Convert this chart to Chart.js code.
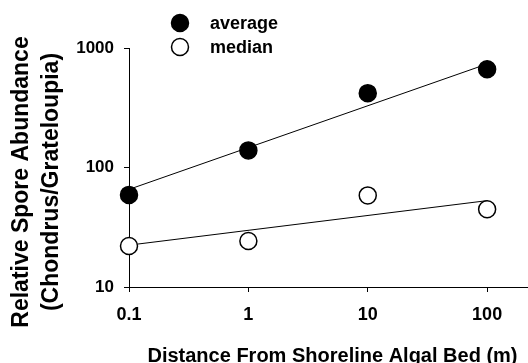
<!DOCTYPE html>
<html><head><meta charset="utf-8">
<script src="https://cdn.jsdelivr.net/npm/chart.js@4"></script>
<style>html,body{margin:0;padding:0;background:#fff}canvas{display:block}</style>
</head><body>
<canvas id="c" width="528" height="363"></canvas>
<script>
const distances = [0.1, 1, 10, 100];
const averageValues = [59, 139, 419, 664];
const medianValues = [22, 24.3, 58.4, 44.7];
const fitDistances = [0.1, 100];
const averageFit = [65.6, 735];
const medianFit = [22.4, 52.8];
const xTickValues = [0.1, 1, 10, 100];
const xTickLabels = ['0.1', '1', '10', '100'];
const yTickValues = [10, 100, 1000];
const yTickLabels = ['10', '100', '1000'];
const seriesLabels = ['average', 'median'];
const xTitle = 'Distance From Shoreline Algal Bed (m)';
const yTitleLines = ['Relative Spore Abundance', '(Chondrus/Grateloupia)'];

const FONT = "'Liberation Sans', Arial, Helvetica, sans-serif";
const toPts = (xs, ys) => xs.map((x, i) => ({x: x, y: ys[i]}));

const annotations = {
  id: 'annotations',
  afterDraw(chart) {
    const ctx = chart.ctx;
    ctx.save();
    ctx.fillStyle = '#000';
    // legend
    const legendY = [23, 47];
    seriesLabels.forEach((lab, i) => {
      const ds = chart.data.datasets[i];
      ctx.beginPath();
      ctx.arc(180, legendY[i], 8.5, 0, Math.PI * 2);
      ctx.fillStyle = ds.backgroundColor;
      ctx.fill();
      ctx.lineWidth = 1.5;
      ctx.strokeStyle = '#000';
      ctx.stroke();
      ctx.fillStyle = '#000';
      ctx.font = 'bold 18px ' + FONT;
      ctx.textAlign = 'left';
      ctx.textBaseline = 'middle';
      ctx.fillText(lab, 210, legendY[i] + 1);
    });
    // x title
    ctx.font = 'bold 20px ' + FONT;
    ctx.textAlign = 'center';
    ctx.textBaseline = 'middle';
    ctx.fillText(xTitle, 332.5, 356);
    // y title
    ctx.font = 'bold 23px ' + FONT;
    const yx = [21.5, 51.5];
    yTitleLines.forEach((t, i) => {
      ctx.save();
      ctx.translate(yx[i], 182);
      ctx.rotate(-Math.PI / 2);
      ctx.fillText(t, 0, 0);
      ctx.restore();
    });
    ctx.restore();
  }
};

new Chart(document.getElementById('c'), {
  type: 'scatter',
  data: {
    datasets: [
      {label: seriesLabels[0], data: toPts(distances, averageValues), backgroundColor: '#000', borderColor: '#000', borderWidth: 1.5, pointRadius: 8.5, pointHoverRadius: 8.5, clip: false},
      {label: seriesLabels[1], data: toPts(distances, medianValues), backgroundColor: '#fff', borderColor: '#000', borderWidth: 1.5, pointRadius: 8.5, pointHoverRadius: 8.5, clip: false},
      {label: 'average fit', type: 'line', data: toPts(fitDistances, averageFit), borderColor: '#000', borderWidth: 1, pointRadius: 0, fill: false, showLine: true, clip: false},
      {label: 'median fit', type: 'line', data: toPts(fitDistances, medianFit), borderColor: '#000', borderWidth: 1, pointRadius: 0, fill: false, showLine: true, clip: false}
    ]
  },
  options: {
    responsive: false,
    animation: false,
    events: [],
    layout: {autoPadding: false, padding: {top: 48, right: 0, left: 0, bottom: 0}},
    plugins: {legend: {display: false}, tooltip: {enabled: false}},
    scales: {
      x: {
        type: 'logarithmic', min: 0.1, max: 220,
        afterFit(s) { s.height = 76; s.paddingLeft = 0; s.paddingRight = 0; },
        afterBuildTicks(s) { s.ticks = xTickValues.map(v => ({value: v})); },
        border: {color: '#000', width: 1},
        grid: {drawOnChartArea: false, drawTicks: true, tickLength: 5, color: '#000', lineWidth: 1},
        ticks: {color: '#000', padding: 12, maxRotation: 0, autoSkip: false, font: {family: FONT, size: 18, weight: 'bold'},
          callback: (v) => { const i = xTickValues.indexOf(v); return i >= 0 ? xTickLabels[i] : ''; }}
      },
      y: {
        type: 'logarithmic', min: 10, max: 1000,
        afterFit(s) { s.width = 129; s.paddingTop = 0; s.paddingBottom = 0; },
        afterBuildTicks(s) { s.ticks = yTickValues.map(v => ({value: v})); },
        border: {color: '#000', width: 1},
        grid: {drawOnChartArea: false, drawTicks: true, tickLength: 5, color: '#000', lineWidth: 1},
        ticks: {color: '#000', padding: 10, autoSkip: false, font: {family: FONT, size: 17, weight: 'bold'},
          callback: (v) => { const i = yTickValues.indexOf(v); return i >= 0 ? yTickLabels[i] : ''; }}
      }
    }
  },
  plugins: [annotations]
});
</script>
</body></html>
